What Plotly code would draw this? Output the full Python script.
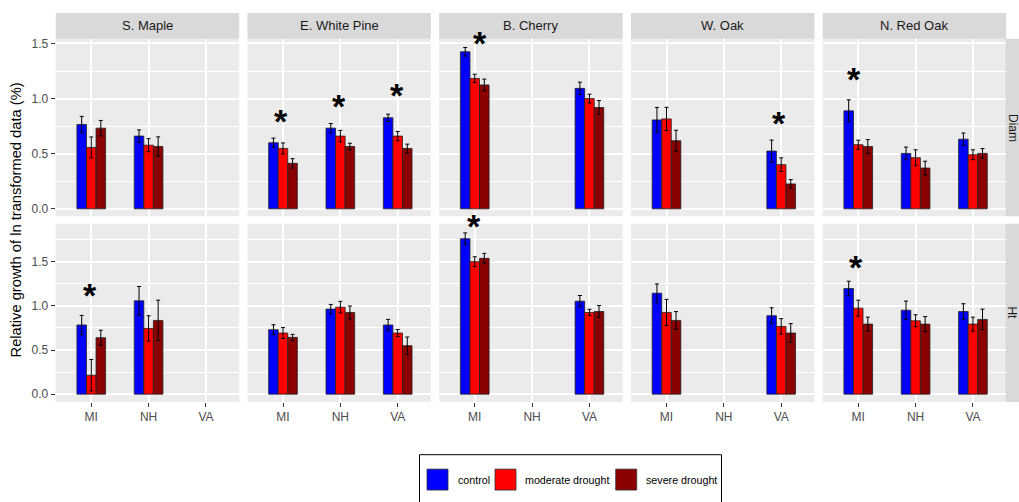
import plotly.graph_objects as go

# ---- data ---------------------------------------------------------------
species = ["S. Maple", "E. White Pine", "B. Cherry", "W. Oak", "N. Red Oak"]
sites = ["MI", "NH", "VA"]
treatments = ["control", "moderate drought", "severe drought"]
variables = ["Diam", "Ht"]

# mean relative growth, one row per species, one column per site
diam_control = [[0.765, 0.660, None], [0.600, 0.732, 0.826], [1.425, None, 1.093],
                [0.807, None, 0.524], [0.889, 0.503, 0.632]]
diam_control_se = [[0.074, 0.056, None], [0.042, 0.042, 0.033], [0.039, None, 0.056],
                   [0.113, None, 0.100], [0.100, 0.057, 0.056]]
diam_moderate = [[0.557, 0.578, None], [0.548, 0.660, 0.660], [1.183, None, 1.000],
                 [0.816, None, 0.401], [0.582, 0.464, 0.491]]
diam_moderate_se = [[0.095, 0.059, None], [0.050, 0.052, 0.042], [0.038, None, 0.040],
                    [0.105, None, 0.062], [0.041, 0.072, 0.045]]
diam_severe = [[0.732, 0.566, None], [0.413, 0.566, 0.548], [1.124, None, 0.919],
               [0.618, None, 0.226], [0.566, 0.370, 0.503]]
diam_severe_se = [[0.070, 0.087, None], [0.042, 0.029, 0.039], [0.053, None, 0.063],
                  [0.095, None, 0.039], [0.062, 0.062, 0.044]]

ht_control = [[0.783, 1.057, None], [0.730, 0.963, 0.783], [1.760, None, 1.053],
              [1.143, None, 0.888], [1.196, 0.951, 0.936]]
ht_control_se = [[0.109, 0.162, None], [0.056, 0.053, 0.064], [0.066, None, 0.064],
                 [0.105, None, 0.090], [0.083, 0.103, 0.088]]
ht_moderate = [[0.214, 0.745, None], [0.692, 0.985, 0.692], [1.500, None, 0.925],
               [0.925, None, 0.767], [0.974, 0.831, 0.793]]
ht_moderate_se = [[0.178, 0.143, None], [0.062, 0.066, 0.040], [0.056, None, 0.036],
                  [0.148, None, 0.088], [0.090, 0.068, 0.079]]
ht_severe = [[0.639, 0.835, None], [0.643, 0.925, 0.549], [1.538, None, 0.936],
             [0.835, None, 0.692], [0.793, 0.793, 0.846]]
ht_severe_se = [[0.085, 0.229, None], [0.034, 0.073, 0.098], [0.056, None, 0.068],
                [0.100, None, 0.107], [0.079, 0.085, 0.117]]

# significance markers: (variable, species index, site, label height)
star_variable = ["Diam", "Diam", "Diam", "Diam", "Diam", "Diam", "Ht", "Ht", "Ht"]
star_species = [1, 1, 1, 2, 3, 4, 0, 2, 4]
star_site = ["MI", "NH", "VA", "MI", "VA", "MI", "MI", "MI", "MI"]
star_height = [0.81, 0.946, 1.039, 1.515, 0.786, 1.19, 1.132, 1.92, 1.45]
star_nudge = [-0.03, -0.03, -0.02, 0.09, -0.04, -0.08, -0.02, -0.02, -0.035]

y_ticks = [0.0, 0.5, 1.0, 1.5]

# ---- styling ------------------------------------------------------------
colors = ["#0000FF", "#FF0000", "#8B0000"]
W, H = 1019, 502
FONT = "Liberation Sans"
panel_bg = "#EBEBEB"
strip_bg = "#D9D9D9"


def fx(px):
    return px / W


def fy(py):
    return 1 - py / H


means = {"Diam": [diam_control, diam_moderate, diam_severe],
         "Ht": [ht_control, ht_moderate, ht_severe]}
errors = {"Diam": [diam_control_se, diam_moderate_se, diam_severe_se],
          "Ht": [ht_control_se, ht_moderate_se, ht_severe_se]}

col_left = [55.7 + i * 191.75 for i in range(5)]
panel_w = 183.5
row_top = [37.0, 222.7]
row_bot = [215.0, 401.7]
y_ranges = [[-0.066, 1.542], [-0.090, 1.929]]
x_positions = [1, 2, 3]

fig = go.Figure()
layout = {}
shapes = []
annotations = []

for r, var in enumerate(variables):
    for c, sp in enumerate(species):
        k = r * 5 + c + 1
        xa = "x" if k == 1 else f"x{k}"
        ya = "y" if k == 1 else f"y{k}"
        for t, tname in enumerate(treatments):
            fig.add_trace(go.Bar(
                x=x_positions,
                y=means[var][t][c],
                name=tname,
                xaxis=xa, yaxis=ya,
                offsetgroup=str(t),
                marker=dict(color=colors[t], line=dict(color="#222222", width=0.8)),
                error_y=dict(type="data", array=errors[var][t][c], visible=True,
                             color="black", thickness=1, width=2),
                showlegend=False,
            ))
        xkey = "xaxis" if k == 1 else f"xaxis{k}"
        ykey = "yaxis" if k == 1 else f"yaxis{k}"
        layout[xkey] = dict(
            domain=[fx(col_left[c]), fx(col_left[c] + panel_w)],
            anchor=ya, range=[0.38, 3.58],
            tickvals=x_positions, ticktext=sites,
            showticklabels=(r == 1), ticks="outside" if r == 1 else "",
            ticklen=4, tickcolor="#333333", tickwidth=1,
            tickfont=dict(family=FONT, size=12, color="#4D4D4D"),
            showgrid=True, gridcolor="white", gridwidth=1.5,
            zeroline=False, showline=False, fixedrange=True,
        )
        layout[ykey] = dict(
            domain=[fy(row_bot[r]), fy(row_top[r])],
            anchor=xa, range=y_ranges[r],
            tickvals=y_ticks, ticktext=[f"{v:.1f}" for v in y_ticks],
            showticklabels=(c == 0), ticks="outside" if c == 0 else "",
            ticklen=4, tickcolor="#333333", tickwidth=1,
            tickfont=dict(family=FONT, size=12, color="#4D4D4D"),
            showgrid=True, gridcolor="white", gridwidth=1.5,
            minor=dict(tickvals=[0.25, 0.75, 1.25, 1.75], showgrid=True,
                       gridcolor="white", gridwidth=0.6),
            zeroline=False, showline=False, fixedrange=True,
        )

# facet strips across the top
for c, sp in enumerate(species):
    shapes.append(dict(type="rect", xref="paper", yref="paper", layer="below",
                       x0=fx(col_left[c]), x1=fx(col_left[c] + panel_w),
                       y0=fy(37.0), y1=fy(11.0), fillcolor=strip_bg, line=dict(width=0)))
    annotations.append(dict(text=sp, xref="paper", yref="paper", showarrow=False,
                            x=fx(col_left[c] + panel_w / 2), y=fy(24.0),
                            xanchor="center", yanchor="middle",
                            font=dict(family=FONT, size=13, color="#1A1A1A")))

# facet strips on the right
for r, var in enumerate(variables):
    shapes.append(dict(type="rect", xref="paper", yref="paper", layer="below",
                       x0=fx(1005.5), x1=fx(1030), y0=fy(row_bot[r]), y1=fy(row_top[r]),
                       fillcolor=strip_bg, line=dict(width=0)))
    annotations.append(dict(text=var, xref="paper", yref="paper", showarrow=False,
                            x=fx(1012.5), y=fy((row_top[r] + row_bot[r]) / 2),
                            textangle=90, xanchor="center", yanchor="middle",
                            font=dict(family=FONT, size=12, color="#1A1A1A")))

# significance asterisks
for v, s, site, h, dx in zip(star_variable, star_species, star_site, star_height, star_nudge):
    r = variables.index(v)
    k = r * 5 + s + 1
    xa = "x" if k == 1 else f"x{k}"
    ya = "y" if k == 1 else f"y{k}"
    annotations.append(dict(text="<b>*</b>", xref=xa, yref=ya, showarrow=False,
                            x=sites.index(site) + 1 + dx, y=h, yshift=-1,
                            xanchor="center", yanchor="middle",
                            font=dict(family=FONT, size=34, color="black")))

# y axis title
annotations.append(dict(text="Relative growth of ln transformed data (%)",
                        xref="paper", yref="paper", showarrow=False,
                        x=fx(16), y=fy((row_top[0] + row_bot[1]) / 2), textangle=-90,
                        xanchor="center", yanchor="middle",
                        font=dict(family=FONT, size=14.7, color="black")))

# legend box along the bottom
shapes.append(dict(type="rect", xref="paper", yref="paper",
                   x0=fx(419.5), x1=fx(721.5), y0=fy(520), y1=fy(454.5),
                   fillcolor="white", line=dict(color="black", width=1)))
key_left = [427.0, 495.0, 615.7]
text_left = [455.7, 523.3, 644.3]
for t, tname in enumerate(treatments):
    shapes.append(dict(type="rect", xref="paper", yref="paper",
                       x0=fx(key_left[t]), x1=fx(key_left[t] + 21), y0=fy(490), y1=fy(469),
                       fillcolor=colors[t], line=dict(color="#333333", width=0.8)))
    annotations.append(dict(text=tname, xref="paper", yref="paper", showarrow=False,
                            x=fx(text_left[t]), y=fy(479.5), xanchor="left", yanchor="middle",
                            font=dict(family=FONT, size=10.7, color="black")))

fig.update_layout(
    **layout,
    width=W, height=H,
    margin=dict(l=0, r=0, t=0, b=0),
    paper_bgcolor="white", plot_bgcolor=panel_bg,
    barmode="group", bargap=0.5, bargroupgap=0,
    shapes=shapes, annotations=annotations,
    showlegend=False,
    font=dict(family=FONT),
)

fig.write_html("out.html")
